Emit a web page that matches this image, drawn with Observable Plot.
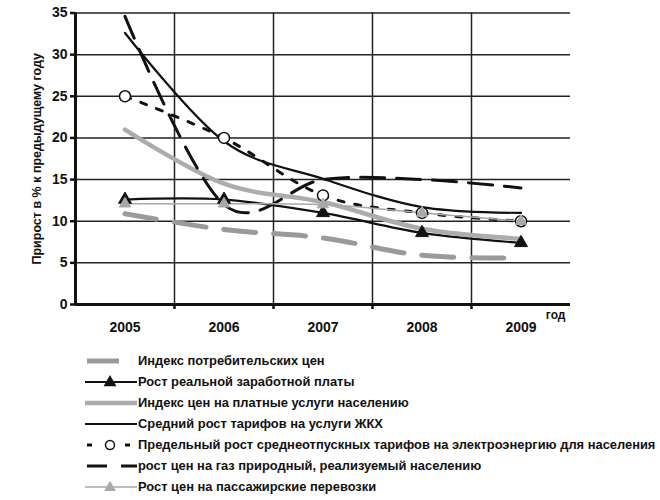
<!DOCTYPE html>
<html>
<head>
<meta charset="utf-8">
<script src="https://cdn.jsdelivr.net/npm/d3@7"></script>
<script src="https://cdn.jsdelivr.net/npm/@observablehq/plot@0.6"></script>
<style>
  html, body { margin: 0; padding: 0; background: #fff; }
  body { width: 660px; height: 500px; overflow: hidden; font-family: "Liberation Sans", Arial, sans-serif; }
  #legend { padding-left: 85px; margin-top: 10px; }
  .row { display: flex; align-items: center; height: 21px; }
  .row svg { flex: none; }
  .row span { font-weight: bold; font-size: 12.9px; color: #111; white-space: nowrap; }
</style>
</head>
<body>
<div id="chart"></div>
<div id="legend"></div>
<script>
const years = [2005, 2006, 2007, 2008, 2009];
const yTicks = [0, 5, 10, 15, 20, 25, 30, 35];
const boundaries = [2005.5, 2006.5, 2007.5, 2008.5];

const cpi         = [10.9, 9.0, 8.0, 5.9, 5.6];
const wage        = [12.6, 12.6, 11.0, 8.6, 7.4];
const services    = [21.0, 14.5, 12.3, 9.1, 7.9];
const housing     = [32.6, 19.6, 15.1, 11.7, 11.0];
const electricity = [25.0, 20.0, 13.1, 11.0, 10.0];
const gas         = [34.6, 12.0, 15.0, 15.0, 14.0];
const passenger   = [12.1, 12.1, 12.0, 11.0, 10.0];

const names = {
  cpi: "Индекс потребительских цен",
  wage: "Рост реальной заработной платы",
  services: "Индекс цен на платные услуги населению",
  housing: "Средний рост тарифов на услуги ЖКХ",
  electricity: "Предельный рост среднеотпускных тарифов на электроэнергию для населения",
  gas: "рост цен на газ природный, реализуемый населению",
  passenger: "Рост цен на пассажирские перевозки"
};

const toRows = (vals) => years.map((year, i) => ({year, value: vals[i]}));

const styles = {
  cpi:         {stroke: "#9a9a9a", strokeWidth: 5, strokeDasharray: "32,18"},
  wage:        {stroke: "#111", strokeWidth: 2.2},
  services:    {stroke: "#acacac", strokeWidth: 4.5},
  housing:     {stroke: "#111", strokeWidth: 2.2},
  electricity: {stroke: "#111", strokeWidth: 3, strokeDasharray: "6,11"},
  gas:         {stroke: "#111", strokeWidth: 3, strokeDasharray: "24,12"},
  passenger:   {stroke: "#a8a8a8", strokeWidth: 1.5}
};

const lineMark = (vals, key) => Plot.line(toRows(vals), {
  x: "year", y: "value", curve: "cardinal", ...styles[key]
});

const chart = Plot.plot({
  width: 660,
  height: 340,
  marginLeft: 75,
  marginRight: 90,
  marginTop: 12.5,
  marginBottom: 36,
  style: {fontFamily: "Liberation Sans, Arial, sans-serif", color: "#111", background: "#fff"},
  x: {type: "linear", domain: [2004.5, 2009.5]},
  y: {domain: [0, 35]},
  marks: [
    Plot.ruleY(yTicks, {stroke: "#222", strokeWidth: 1.5}),
    Plot.ruleX(boundaries, {y1: 0, y2: 35, stroke: "#222", strokeWidth: 1.5}),
    Plot.axisY({ticks: yTicks, tickSize: 5, tickPadding: 3, strokeWidth: 2.5, fontSize: 14, fontWeight: "bold", label: null}),
    Plot.axisX({ticks: years, tickSize: 0, tickPadding: 18, tickFormat: d => String(d), fontSize: 14, fontWeight: "bold", label: null}),
    Plot.axisX({ticks: boundaries, tickSize: 5, tickFormat: () => "", strokeWidth: 2.5, label: null}),
    Plot.text(["год"], {frameAnchor: "bottom-right", dx: -5, dy: 14, fontSize: 12, fontWeight: "bold", textAnchor: "end"}),
    Plot.text(["Прирост в % к предыдущему году"], {frameAnchor: "left", dx: -39, rotate: -90, textAnchor: "middle", fontSize: 12.5, fontWeight: "bold"}),
    Plot.ruleX([2004.5], {y1: 0, y2: 35, stroke: "#111", strokeWidth: 3}),
    Plot.ruleY([0], {stroke: "#111", strokeWidth: 3}),
    lineMark(cpi, "cpi"),
    lineMark(wage, "wage"),
    lineMark(services, "services"),
    lineMark(housing, "housing"),
    lineMark(electricity, "electricity"),
    lineMark(gas, "gas"),
    lineMark(passenger, "passenger"),
    Plot.dot(toRows(wage), {x: "year", y: "value", symbol: "triangle", r: 4.8, fill: "#111", stroke: "#111", strokeWidth: 1}),
    Plot.dot(toRows(electricity), {x: "year", y: "value", symbol: "circle", r: 5.5, fill: "#fff", stroke: "#111", strokeWidth: 1.5}),
    Plot.dot(toRows(passenger), {x: "year", y: "value", symbol: "triangle", r: 4.2, fill: "#a8a8a8", stroke: "#a8a8a8", strokeWidth: 1})
  ]
});
document.getElementById("chart").appendChild(chart);

// Legend
const legendSwatches = {
  cpi: `<line x1="2" x2="34" y1="10" y2="10" stroke="#9a9a9a" stroke-width="5"/>`,
  wage: `<line x1="0" x2="52" y1="10" y2="10" stroke="#111" stroke-width="2.2"/><path d="${d3.symbol(d3.symbolTriangle, 72)()}" transform="translate(25,10.5)" fill="#111"/>`,
  services: `<line x1="0" x2="52" y1="10" y2="10" stroke="#acacac" stroke-width="4.5"/>`,
  housing: `<line x1="0" x2="52" y1="10" y2="10" stroke="#111" stroke-width="2.2"/>`,
  electricity: `<line x1="2" x2="7" y1="10" y2="10" stroke="#111" stroke-width="3"/><circle cx="25" cy="10" r="4.5" fill="#fff" stroke="#111" stroke-width="1.5"/><line x1="40" x2="45" y1="10" y2="10" stroke="#111" stroke-width="3"/>`,
  gas: `<line x1="2" x2="22" y1="10" y2="10" stroke="#111" stroke-width="3"/><line x1="36" x2="52" y1="10" y2="10" stroke="#111" stroke-width="3"/>`,
  passenger: `<line x1="0" x2="52" y1="10" y2="10" stroke="#a8a8a8" stroke-width="1.5"/><path d="${d3.symbol(d3.symbolTriangle, 60)()}" transform="translate(25,10.5)" fill="#a8a8a8"/>`
};
const legend = document.getElementById("legend");
for (const key of Object.keys(names)) {
  const row = document.createElement("div");
  row.className = "row";
  row.innerHTML = `<svg width="53" height="20" viewBox="0 0 53 20">${legendSwatches[key]}</svg><span>${names[key]}</span>`;
  legend.appendChild(row);
}
</script>
</body>
</html>
